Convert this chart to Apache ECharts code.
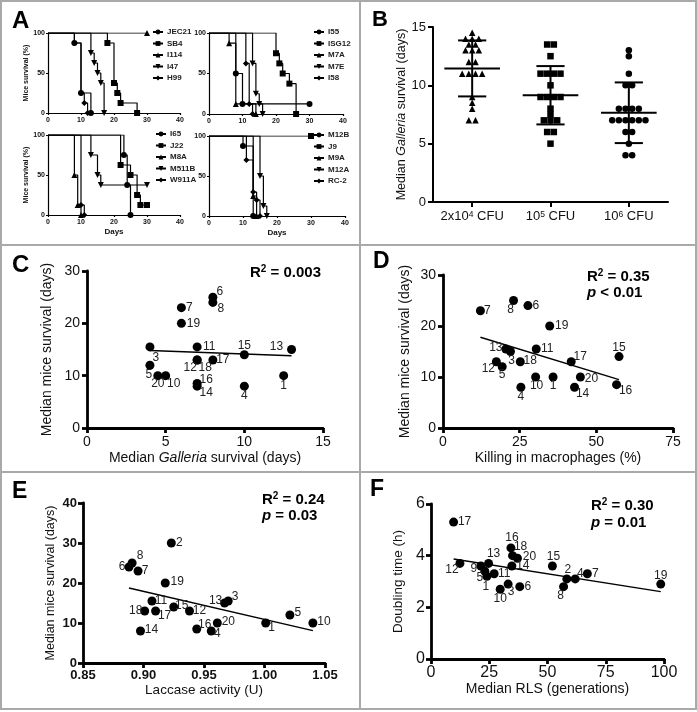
<!DOCTYPE html>
<html><head><meta charset="utf-8">
<script src="https://cdn.jsdelivr.net/npm/echarts@6/dist/echarts.min.js"></script>
<style>html,body{margin:0;padding:0;background:#fff}#c{width:697px;height:712px}</style>
</head><body><div id="c"></div>
<script>
const FONT = '"Liberation Sans", Arial, Helvetica, sans-serif';

// ---------- Panel A: Kaplan-Meier curves, [day, % survival] ----------
const a1Names = ['JEC21','SB4','I114','I47','H99'];
const a1JEC21 = [[0,100],[8,87.5],[10,25],[13,0]];
const a1SB4   = [[0,100],[18,87.5],[20,37.5],[21,25],[22,12.5],[27,0]];
const a1I114  = [[0,100],[30,100]];
const a1I47   = [[0,100],[13,75],[14,62.5],[15,50],[16,37.5],[17,0]];
const a1H99   = [[0,100],[8,87.5],[10,25],[11,12.5],[12,0]];

const a2Names = ['I55','ISG12','M7A','M7E','I58'];
const a2I55   = [[0,100],[8,50],[10,12.5],[30,12.5]];
const a2ISG12 = [[0,100],[20,75],[21,62.5],[22,50],[24,37.5],[26,0]];
const a2M7A   = [[0,100],[6,87.5],[8,12.5],[14,0]];
const a2M7E   = [[0,100],[13,62.5],[14,25],[15,12.5],[16,0]];
const a2I58   = [[0,100],[11,62.5],[12,12.5],[13,0]];

const a3Names = ['I65','J22','M8A','M511B','W911A'];
const a3I65   = [[0,100],[23,75],[24,37.5],[25,0]];
const a3J22   = [[0,100],[22,62.5],[25,50],[27,25],[28,12.5],[30,12.5]];
const a3M8A   = [[0,100],[8,50],[9,12.5],[10,0]];
const a3M511B = [[0,100],[13,75],[15,50],[16,37.5],[30,37.5]];
const a3W911A = [[0,100],[10,12.5],[11,0]];

const a4Names = ['M12B','J9','M9A','M12A','RC-2'];
const a4M12B  = [[0,100],[10,87.5],[13,0]];
const a4J9    = [[0,100],[30,100]];
const a4M9A   = [[0,100],[13,25],[14,0]];
const a4M12A  = [[0,100],[15,50],[16,12.5],[17,0]];
const a4RC2   = [[0,100],[11,70],[13,30],[14,20],[15,0]];

// ---------- Panel B: median Galleria survival (days) ----------
const bCats = ['2x10{s|4} CFU','10{s|5} CFU','10{s|6} CFU'];
const b2e4 = [14.5,14,14,14,13.5,13.5,13,13,13,12,12,11,11,11,11,9,8.5,8,7,7];
const b1e5 = [13.5,13.5,12.5,11,11,11,11,10,9,9,9,9,8,7.5,7,7,7,6,6,5];
const b1e6 = [13,12.5,11,10,10,8,8,8,8,7,7,7,7,7,7,6,6,5,4,4];
const bMean = [11.45, 9.15, 7.65];
const bSD   = [2.4, 2.5, 2.6];

// ---------- Panel C ----------
const cIds      = [1,3,4,5,6,7,8,10,11,12,13,14,15,16,17,18,19,20];
const cGalleria = [12.5,4,10,4,8,6,8,5,7,7,13,7,10,7,8,7,6,4.5];
const cMice     = [10,15.5,8,12,25,23,24,10,15.5,13,15,8,14,8.5,13,13,20,10];
const cFit      = [[4,14.8],[13,13.8]];

// ---------- Panel D ----------
const dIds     = [1,3,4,5,6,7,8,10,11,12,13,14,15,16,17,18,19,20];
const dKilling = [35.9,22,25.4,19.3,27.7,12.2,23,30.2,30.4,17.4,20.5,42.9,57.4,56.6,41.8,25.2,34.8,44.8];
const dMice    = [10,15,8,12,24,23,25,10,15.5,13,15.5,8,14,8.5,13,13,20,10];
const dFit     = [[12.2,17.8],[57.4,9.5]];

// ---------- Panel E ----------
const eIds     = [1,2,3,4,5,6,7,8,10,11,12,13,14,15,16,17,18,19,20];
const eLaccase = [1.001,0.923,0.970,0.956,1.021,0.888,0.8955,0.8906,1.040,0.907,0.938,0.967,0.8975,0.925,0.944,0.910,0.901,0.918,0.961];
const eMice    = [10,30,15.5,8,12,24,23,25,10,15.5,13,15,8,14,8.5,13,13,20,10];
const eFit     = [[0.888,18.75],[1.040,8.1]];

// ---------- Panel F ----------
const fIds  = [1,2,3,4,5,6,7,8,9,10,11,12,13,14,15,16,17,18,19,20];
const fRLS  = [24,58.3,33.1,61.9,23.1,38.1,67.1,56.9,21.4,29.7,27.1,12.4,24.7,34.7,52.1,34.3,9.7,35,98.6,37.1];
const fDbl  = [3.2,3.1,2.9,3.1,3.4,2.8,3.3,2.8,3.6,2.7,3.3,3.7,3.7,3.6,3.6,4.3,5.3,4.0,2.9,3.9];
const fFit  = [[9.7,3.87],[98.6,2.61]];

// ---------- label placement (style, px offsets from point centre) ----------
const cLab = {1:[0,10],3:[6,11],4:[0,10],5:[-1,9],6:[7,-5],7:[8,0],8:[8,6],10:[8,8],11:[12,0],12:[-7,8],13:[-15,-3],14:[9,7],15:[0,-9],16:[9,-4],17:[10,0],18:[8,8],19:[12,0],20:[0,8]};
const dLab = {1:[0,9],3:[1,9],4:[0,9],5:[0,8],6:[8,0],7:[7,0],8:[-3,9],10:[1,9],11:[11,0],12:[-8,7],13:[-10,-1],14:[8,6],15:[0,-9],16:[9,6],17:[9,-5],18:[10,-1],19:[12,0],20:[11,2]};
const eLab = {1:[6,5],2:[8,0],3:[7,-4],4:[6,3],5:[8,-2],6:[-7,0],7:[7,0],8:[8,-7],10:[11,-1],11:[9,0],12:[10,0],13:[-9,-2],14:[11,-1],15:[8,-1],16:[8,-4],17:[9,5],18:[-9,0],19:[12,-1],20:[11,-1]};
const fLab = {1:[-1,10],2:[1,-9],3:[3,8],4:[5,-5],5:[-5,7],6:[8,0],7:[8,0],8:[-3,9],9:[-7,3],10:[0,9],11:[10,0],12:[-8,6],13:[5,-10],14:[11,0],15:[1,-9],16:[1,-10],17:[11,0],18:[8,-9],19:[0,-8],20:[12,-2]};

const DOWN = 'path://M0,0L10,0L5,9Z';
const kmSym = ['circle','rect','triangle',DOWN,'diamond'];

function ax(extra, w, tl) {
  return Object.assign({
    axisLine:{show:true,onZero:false,lineStyle:{color:'#000',width:w}},
    axisTick:{show:true,inside:false,length:tl,lineStyle:{color:'#000',width:w}},
    splitLine:{show:false}
  }, extra);
}
function aX(g, showName) {
  return ax({gridIndex:g,type:'value',min:0,max:40,interval:10,
    axisLabel:{fontSize:7,fontWeight:'bold',color:'#111',margin:4,fontFamily:FONT},
    name: showName?'Days':'', nameLocation:'middle', nameGap:13,
    nameTextStyle:{fontSize:8,fontWeight:'bold',color:'#111',fontFamily:FONT}}, 1.2, 2);
}
function aY(g, showName) {
  return ax({gridIndex:g,type:'value',min:0,max:100,interval:50,
    axisLabel:{fontSize:7,fontWeight:'bold',color:'#111',margin:3,fontFamily:FONT},
    name: showName?'Mice survival (%)':'', nameLocation:'middle', nameGap:13,
    nameTextStyle:{fontSize:7,fontWeight:'bold',color:'#111',fontFamily:FONT}}, 1.2, 2);
}

const series = [];
function kmSeries(names, curves, g) {
  curves.forEach((pts, j) => {
    series.push({type:'line', name:names[j], xAxisIndex:g, yAxisIndex:g, step:'end',
      symbol:kmSym[j], symbolSize:6, showAllSymbol:true,
      data: pts.map((p,i) => i===0 ? {value:p, symbol:'none'} : p),
      lineStyle:{color:'#000',width:1.2}, itemStyle:{color:'#000',opacity:1}, z:3});
  });
}
kmSeries(a1Names,[a1JEC21,a1SB4,a1I114,a1I47,a1H99],0);
kmSeries(a2Names,[a2I55,a2ISG12,a2M7A,a2M7E,a2I58],1);
kmSeries(a3Names,[a3I65,a3J22,a3M8A,a3M511B,a3W911A],2);
kmSeries(a4Names,[a4M12B,a4J9,a4M9A,a4M12A,a4RC2],3);

function swarm(vals, center, step) {
  const counts = {}; vals.forEach(v => counts[v]=(counts[v]||0)+1);
  const seen = {};
  return vals.map(v => { const n=counts[v]; const k=(seen[v]=(seen[v]||0)+1)-1; return [center+(k-(n-1)/2)*step, v]; });
}
[b2e4,b1e5,b1e6].forEach((vals,i) => {
  series.push({type:'scatter', xAxisIndex:5, yAxisIndex:4, symbol:['triangle','rect','circle'][i],
    symbolSize:6.5, itemStyle:{color:'#000',opacity:1}, data: swarm(vals, i, 0.085), z:3});
});
series.push({type:'custom', xAxisIndex:5, yAxisIndex:4, z:4,
  data: bMean.map((m,i)=>[i,m,bSD[i]]),
  renderItem:(params, api) => {
    const i=api.value(0), m=api.value(1), s=api.value(2);
    const c=api.coord([i,m]), up=api.coord([i,m+s]), lo=api.coord([i,m-s]);
    const u=api.size([1,0])[0], hw=u*0.355, cw=u*0.18;
    const st={stroke:'#000',lineWidth:2};
    return {type:'group', children:[
      {type:'line',shape:{x1:c[0]-hw,y1:c[1],x2:c[0]+hw,y2:c[1]},style:st},
      {type:'line',shape:{x1:c[0],y1:up[1],x2:c[0],y2:lo[1]},style:st},
      {type:'line',shape:{x1:c[0]-cw,y1:up[1],x2:c[0]+cw,y2:up[1]},style:st},
      {type:'line',shape:{x1:c[0]-cw,y1:lo[1],x2:c[0]+cw,y2:lo[1]},style:st}
    ]};
  }});

function scat(ids, xs, ys, lab, g, fit) {
  series.push({type:'scatter', xAxisIndex:g+1, yAxisIndex:g, symbolSize:9, itemStyle:{color:'#000',opacity:1}, z:3,
    data: ids.map((id,k)=>({value:[xs[k],ys[k],id], label:{offset:lab[id]||[10,0]}})),
    label:{show:true, position:'inside', formatter:p=>String(p.value[2]), fontSize:12, color:'#222', fontFamily:FONT}});
  series.push({type:'line', xAxisIndex:g+1, yAxisIndex:g, data:fit, symbol:'none', lineStyle:{color:'#000',width:1.4}, z:2});
}
scat(cIds,cGalleria,cMice,cLab,5,cFit);
scat(dIds,dKilling,dMice,dLab,6,dFit);
scat(eIds,eLaccase,eMice,eLab,7,eFit);
scat(fIds,fRLS,fDbl,fLab,8,fFit);

const tl = (s) => ({fontSize:s, color:'#111', fontFamily:FONT});
const italicRich = (s) => ({i:{fontStyle:'italic',fontSize:s,color:'#111',fontFamily:FONT}});

const option = {
  animation:false,
  textStyle:{fontFamily:FONT},
  grid:[
    {left:48, top:33, width:132, height:80},
    {left:209, top:33, width:134, height:81},
    {left:48, top:135, width:132, height:80},
    {left:209, top:136, width:136, height:80},
    {left:433, top:27, width:235, height:175},
    {left:87, top:271, width:236, height:157},
    {left:443, top:275, width:230, height:153},
    {left:83, top:503, width:242, height:160},
    {left:431, top:504, width:233, height:155}
  ],
  xAxis:[
    aX(0,false), aX(1,false), aX(2,true), aX(3,true),
    ax({gridIndex:4,type:'category',data:bCats,boundaryGap:true,
      axisTick:{show:true,alignWithLabel:true,length:5,lineStyle:{color:'#000',width:2}},
      axisLabel:{interval:0,fontSize:13,color:'#111',margin:8,fontFamily:FONT,
        rich:{s:{fontSize:8.5,verticalAlign:'top',lineHeight:9,color:'#111',fontFamily:FONT}}}}, 2, 5),
    {gridIndex:4,type:'value',min:-0.5,max:2.5,show:false},
    ax({gridIndex:5,type:'value',min:0,max:15,interval:5,axisLabel:Object.assign(tl(14),{margin:7}),
      name:'Median {i|Galleria} survival (days)',nameLocation:'middle',nameGap:23,
      nameTextStyle:Object.assign(tl(14),{rich:italicRich(14)})}, 2.8, 5),
    ax({gridIndex:6,type:'value',min:0,max:75,interval:25,axisLabel:Object.assign(tl(14),{margin:7}),
      name:'Killing in macrophages (%)',nameLocation:'middle',nameGap:23,nameTextStyle:tl(14)}, 2.8, 5),
    ax({gridIndex:7,type:'value',min:0.85,max:1.05,interval:0.05,
      axisLabel:Object.assign(tl(13),{fontWeight:'bold',margin:6,formatter:v=>v.toFixed(2)}),
      name:'Laccase activity (U)',nameLocation:'middle',nameGap:20,nameTextStyle:tl(13.5)}, 2.8, 5),
    ax({gridIndex:8,type:'value',min:0,max:100,interval:25,axisLabel:Object.assign(tl(16),{margin:6}),
      name:'Median RLS (generations)',nameLocation:'middle',nameGap:22,nameTextStyle:tl(14)}, 2.8, 5)
  ],
  yAxis:[
    aY(0,true), aY(1,false), aY(2,true), aY(3,false),
    ax({gridIndex:4,type:'value',min:0,max:15,interval:5,axisLabel:Object.assign(tl(13),{margin:7}),
      name:'Median {i|Galleria} survival (days)',nameLocation:'middle',nameGap:24,
      nameTextStyle:Object.assign(tl(12.5),{rich:italicRich(12.5)})}, 2, 5),
    ax({gridIndex:5,type:'value',min:0,max:30,interval:10,axisLabel:Object.assign(tl(14),{margin:7}),
      name:'Median mice survival (days)',nameLocation:'middle',nameGap:33,nameTextStyle:tl(14)}, 2.8, 5),
    ax({gridIndex:6,type:'value',min:0,max:30,interval:10,axisLabel:Object.assign(tl(14),{margin:7}),
      name:'Median mice survival (days)',nameLocation:'middle',nameGap:31,nameTextStyle:tl(14)}, 2.8, 5),
    ax({gridIndex:7,type:'value',min:0,max:40,interval:10,
      axisLabel:Object.assign(tl(13),{fontWeight:'bold',margin:6}),
      name:'Median mice survival (days)',nameLocation:'middle',nameGap:26,nameTextStyle:tl(12.5)}, 2.8, 5),
    ax({gridIndex:8,type:'value',min:0,max:6,interval:2,axisLabel:Object.assign(tl(16),{margin:6}),
      name:'Doubling time (h)',nameLocation:'middle',nameGap:26,nameTextStyle:tl(13.5)}, 2.8, 5)
  ],
  legend:[
    {data:a1Names,left:152,top:28},
    {data:a2Names,left:313,top:28},
    {data:a3Names,left:155,top:130},
    {data:a4Names,left:313,top:131}
  ].map(l => Object.assign(l,{orient:'vertical',itemWidth:10,itemHeight:6,itemGap:3.5,padding:0,
      selectedMode:false, textStyle:{fontSize:8,fontWeight:'bold',color:'#222',lineHeight:7,fontFamily:FONT,padding:[0,0,0,-1]}})),
  series: series,
  graphic: []
};

const border = {fill:'none', stroke:'#a9a9a9', lineWidth:2};
[[1,1,359,244],[360,1,336,244],[1,245,359,227],[360,245,336,227],[1,472,359,237],[360,472,336,237]]
  .forEach(r => option.graphic.push({type:'rect', shape:{x:r[0],y:r[1],width:r[2],height:r[3]}, style:border, z:0, silent:true}));

function txt(t, x, y, font) {
  return {type:'text', x:x, y:y, z:10, style:{text:t, font:font, fill:'#000', textAlign:'left', align:'left', textVerticalAlign:'middle', verticalAlign:'middle'}};
}
[['A',12,21,24],['B',372,20,22],['C',12,265,24],['D',373,262,23],['E',12,492,23],['F',370,490,23]]
  .forEach(l => option.graphic.push(txt(l[0], l[1], l[2], 'bold '+l[3]+'px '+FONT)));

const statRich = {
  n:{fontSize:15,fontWeight:'bold',fontFamily:FONT,fill:'#000',color:'#000',lineHeight:18},
  s:{fontSize:10,fontWeight:'bold',fontFamily:FONT,fill:'#000',color:'#000',verticalAlign:'top',lineHeight:10},
  i:{fontSize:15,fontWeight:'bold',fontStyle:'italic',fontFamily:FONT,fill:'#000',color:'#000',lineHeight:18}
};
function stat(t, x, y) {
  return {type:'text', x:x, y:y, z:10, style:{text:t, rich:statRich, textAlign:'left', align:'left', textVerticalAlign:'middle', verticalAlign:'middle'}};
}
option.graphic.push(stat('{n|R}{s|2}{n| = 0.003}', 250, 273));
option.graphic.push(stat('{n|R}{s|2}{n| = 0.35}', 587, 277));
option.graphic.push(stat('{i|p}{n| < 0.01}', 587, 293));
option.graphic.push(stat('{n|R}{s|2}{n| = 0.24}', 262, 500));
option.graphic.push(stat('{i|p}{n| = 0.03}', 262, 516));
option.graphic.push(stat('{n|R}{s|2}{n| = 0.30}', 591, 506));
option.graphic.push(stat('{i|p}{n| = 0.01}', 591, 523));

const chart = echarts.init(document.getElementById('c'));
chart.setOption(option);
</script></body></html>
